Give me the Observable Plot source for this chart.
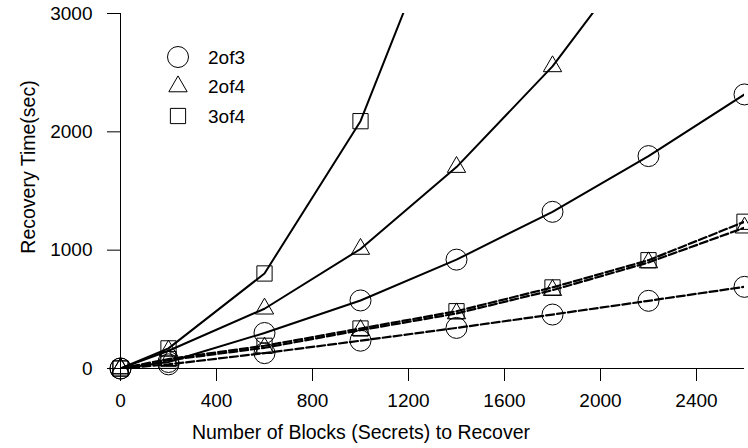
<!DOCTYPE html>
<html><head><meta charset="utf-8">
<script src="https://cdn.jsdelivr.net/npm/d3@7"></script>
<script src="https://cdn.jsdelivr.net/npm/@observablehq/plot@0.6"></script>
<style>
body{margin:0;background:#fff;}
#wrap{position:relative;width:748px;height:448px;}
</style></head><body><div id="wrap"></div>
<script>
// Number of blocks (x) and recovery times (sec)
const blocks = [0, 200, 600, 1000, 1400, 1800, 2200, 2600];
const schemes = ["2of3", "2of4", "3of4"];
const symbols = ["circle", "triangle", "square"];
// solid-line series
const solid2of3 = [0, 55, 300, 575, 920, 1324, 1795, 2316];
const solid2of4 = [0, 150, 505, 1010, 1702, 2553, 3630];
const solid3of4 = [0, 170, 803, 2090, 4140];
// dashed-line series
const dashed2of3 = [0, 35, 130, 235, 343, 456, 572, 690];
const dashed2of4 = [0, 70, 175, 324, 465, 662, 896, 1190];
const dashed3of4 = [0, 80, 192, 338, 484, 685, 915, 1240];
// axes
const xTicks = [0, 400, 800, 1200, 1600, 2000, 2400];
const yTicks = [0, 1000, 2000, 3000];
const xLabel = "Number of Blocks (Secrets) to Recover";
const yLabel = "Recovery Time(sec)";

const rows = [];
function add(vals, scheme, style) {
  vals.forEach((v, i) => rows.push({x: blocks[i], y: v, scheme, style}));
}
add(solid2of3, "2of3", "solid"); add(solid2of4, "2of4", "solid"); add(solid3of4, "3of4", "solid");
add(dashed2of3, "2of3", "dashed"); add(dashed2of4, "2of4", "dashed"); add(dashed3of4, "3of4", "dashed");

const font = '"Liberation Sans", Arial, Helvetica, sans-serif';
const markerR = {circle: 10.5, triangle: 6.8, square: 8.6};

const plot = Plot.plot({
  width: 748, height: 448,
  marginLeft: 120, marginRight: 4, marginTop: 13, marginBottom: 80,
  style: {fontFamily: font, fontSize: "19px", background: "white", color: "black", overflow: "visible"},
  x: {domain: [0, 2600]},
  y: {domain: [0, 3000]},
  marks: [
    Plot.axisX({ticks: xTicks, tickSize: 13, tickPadding: 12, fontSize: 19, label: null, tickFormat: d => String(d)}),
    Plot.axisY({ticks: yTicks, tickSize: 13, tickPadding: 15, fontSize: 19, label: null, tickFormat: d => String(d)}),
    Plot.ruleY([0], {stroke: "black"}),
    Plot.ruleX([0], {stroke: "black"}),
    Plot.line(rows.filter(d => d.style === "solid"), {x: "x", y: "y", z: "scheme", stroke: "black", strokeWidth: 2, clip: true}),
    Plot.line(rows.filter(d => d.style === "dashed"), {x: "x", y: "y", z: "scheme", stroke: "black", strokeWidth: 2.2, strokeDasharray: "8,3", clip: true}),
    ...schemes.map((s, i) => Plot.dot(rows.filter(d => d.scheme === s && d.y <= 3000),
      {x: "x", y: "y", symbol: symbols[i], r: markerR[symbols[i]], stroke: "black", strokeWidth: 1, fill: "none"}))
  ]
});
document.getElementById("wrap").appendChild(plot);

const svg = d3.select(plot);
svg.append("text").attr("x", 361).attr("y", 439).attr("text-anchor", "middle")
  .attr("font-family", font).attr("font-size", 19.5).attr("fill", "black").text(xLabel);
svg.append("text").attr("transform", "translate(35,167) rotate(-90)").attr("text-anchor", "middle")
  .attr("font-family", font).attr("font-size", 19.5).attr("fill", "black").text(yLabel);

// legend
const lg = svg.append("g").attr("font-family", font).attr("font-size", 19).attr("text-anchor", "start");
const legendY = [57, 86.5, 116];
schemes.forEach((s, i) => {
  const sym = symbols[i];
  const type = sym === "circle" ? d3.symbolCircle : sym === "triangle" ? d3.symbolTriangle : d3.symbolSquare;
  const r = markerR[sym];
  lg.append("path").attr("d", d3.symbol(type, Math.PI * r * r)())
    .attr("transform", `translate(178,${legendY[i]})`).attr("fill", "none").attr("stroke", "black");
  lg.append("text").attr("x", 208).attr("y", legendY[i]).attr("dy", "0.35em").attr("text-anchor", "start")
    .attr("fill", "black").text(s);
});
</script>
</body></html>
